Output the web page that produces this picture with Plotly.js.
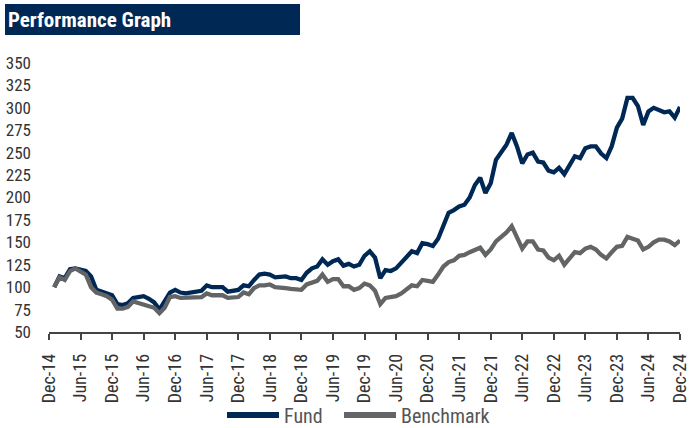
<!DOCTYPE html>
<html>
<head>
<meta charset="utf-8">
<script src="https://cdn.plot.ly/plotly-3.0.1.min.js"></script>
<style>html,body{margin:0;padding:0;background:#fff;}#chart{width:700px;height:428px;}</style>
</head>
<body>
<div id="chart"></div>
<script>
// Monthly values, Jan-15 .. Dec-24
const fund = [
  100,112,110,120,121,119,118,112,97,95,93,91,
  81,80,82,88,89,90,87,83,75,84,94,97,
  94,93,94,95,96,102,100,100,100,95,96,97,
  102,101,108,114,115,114,111,111,112,110,110,108,
  116,121,123,131,125,129,131,124,126,123,125,135,
  140,133,110,119,118,121,127,133,140,138,149,148,
  146,154,168,183,186,190,192,200,214,222,205,216,
  242,250,259,272,257,238,248,250,240,239,230,228,
  233,226,237,246,244,255,257,257,249,244,257,278,
  288,311,311,302,281,296,300,297,295,296,289,301
];
const benchmark = [
  100,111,108,118,121,117,114,100,94,92,90,86,
  76,76,78,84,82,81,79,77,71,77,89,90,
  88,88,88,89,89,93,91,91,91,88,88,89,
  94,92,99,102,102,103,100,100,99,98,97,97,
  103,105,107,114,106,109,109,101,101,97,99,104,
  102,96,81,88,89,90,93,98,102,101,108,107,
  106,114,123,128,130,135,136,139,142,144,136,142,
  151,156,161,168,155,143,151,151,142,141,133,130,
  135,125,132,139,138,143,145,142,136,132,139,145,
  146,156,154,152,142,145,150,153,153,151,147,152
];
const tickLabels = ['Dec-14','Jun-15','Dec-15','Jun-16','Dec-16','Jun-17','Dec-17','Jun-18','Dec-18','Jun-19','Dec-19','Jun-20','Dec-20','Jun-21','Dec-21','Jun-22','Dec-22','Jun-23','Dec-23','Jun-24','Dec-24'];
const seriesNames = ['Fund','Benchmark'];
const yTicks = [50,75,100,125,150,175,200,225,250,275,300,325,350];

// month index: Dec-14 = 0, Jan-15 = 1 ...
const monthIdx = fund.map((_, i) => i + 1);
const tickIdx = tickLabels.map((_, i) => i * 6);
const monthNames = ['Jan','Feb','Mar','Apr','May','Jun','Jul','Aug','Sep','Oct','Nov','Dec'];
const monthText = fund.map((_, i) => monthNames[i % 12] + '-' + String(15 + Math.floor(i / 12)));

const FONT = '"Liberation Sans Narrow", "Arial Narrow", "Roboto Condensed", "Liberation Sans", sans-serif';
const NAVY = '#002855';
const GREY = '#636466';
const colors = [NAVY, GREY];

const traces = [
  {x: monthIdx, y: fund, text: monthText, name: seriesNames[0], type: 'scatter', mode: 'lines',
   line: {color: NAVY, width: 4.3}, hovertemplate: '%{text}: %{y}<extra>Fund</extra>'},
  {x: monthIdx, y: benchmark, text: monthText, name: seriesNames[1], type: 'scatter', mode: 'lines',
   line: {color: GREY, width: 4.3}, hovertemplate: '%{text}: %{y}<extra>Benchmark</extra>'}
];

// custom legend (long, thick samples as in the reference)
const legendPos = [{x0: 0.2821, x1: 0.3645, tx: 0.3692}, {x0: 0.4675, x1: 0.5499, tx: 0.5547}];
const legendY = -0.309;
const shapes = [{type: 'rect', xref: 'paper', yref: 'paper', layer: 'below',
                 x0: -0.0697, x1: 0.3978, y0: 1.1041, y1: 1.2193,
                 fillcolor: NAVY, line: {width: 0}}];
const annotations = [];
seriesNames.forEach((n, i) => {
  shapes.push({type: 'line', xref: 'paper', yref: 'paper', x0: legendPos[i].x0, x1: legendPos[i].x1,
               y0: legendY, y1: legendY, line: {color: colors[i], width: 6}});
  annotations.push({xref: 'paper', yref: 'paper', x: legendPos[i].tx, y: legendY - 0.004,
                    xanchor: 'left', yanchor: 'middle', showarrow: false, text: n,
                    font: {family: FONT, size: 20, color: '#555555'}});
});

const layout = {
  width: 700, height: 428,
  margin: {l: 49, r: 20, t: 63, b: 96},
  paper_bgcolor: '#ffffff', plot_bgcolor: '#ffffff',
  font: {family: FONT, color: '#333333', size: 15},
  title: {text: '<b>Performance Graph</b>', x: 0.0114, xref: 'container', xanchor: 'left',
          y: 0.953, yref: 'container', yanchor: 'middle',
          font: {family: FONT, size: 21, color: '#ffffff'}},
  shapes: shapes,
  annotations: annotations,
  xaxis: {
    range: [0, 120], tickvals: tickIdx, ticktext: tickLabels, tickangle: -90,
    showgrid: false, zeroline: false, showline: true, linecolor: '#444444', linewidth: 1.5,
    ticks: 'outside', ticklen: 6, tickwidth: 1.5, tickcolor: '#444444',
    tickfont: {family: FONT, size: 18, color: '#333333'}, ticklabelstandoff: 7
  },
  yaxis: {
    range: [50, 350], tickvals: yTicks, showgrid: false, zeroline: false, showline: false,
    ticks: '', tickfont: {family: FONT, size: 17, color: '#333333'}, ticklabelstandoff: 17
  },
  showlegend: false,
  hovermode: 'x unified'
};

Plotly.newPlot('chart', traces, layout, {displayModeBar: false});
</script>
</body>
</html>
